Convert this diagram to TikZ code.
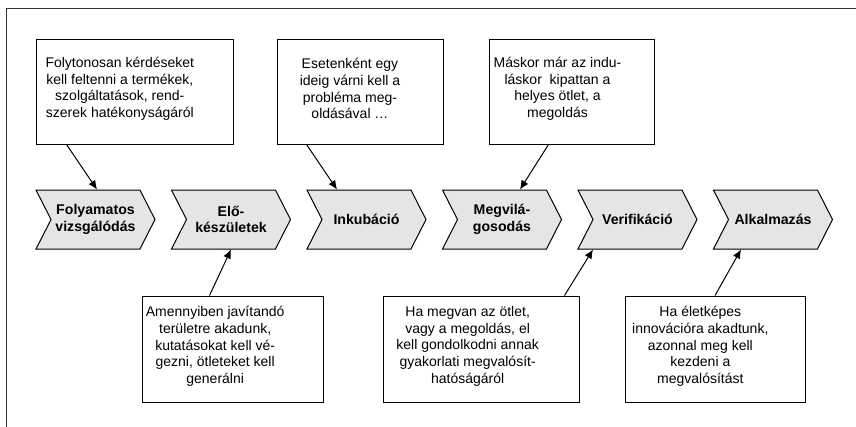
\documentclass[tikz,border=0pt]{standalone}
\usepackage{fontspec}
\setmainfont{Liberation Sans}
\usetikzlibrary{calc,shapes.symbols,arrows.meta}

\tikzset{
  phase/.style={signal, signal from=west, signal to=east, signal pointer angle=126,
    draw, fill=gray!20, minimum width=89.25pt, minimum height=44.25pt, inner sep=0pt,
    align=center, font=\fontsize{10.6}{12.6}\selectfont\bfseries},
  note/.style={draw, fill=white, inner sep=0pt, minimum height=78.75pt},
  notetext/.style={align=center, yshift=2pt, font=\fontsize{10.5}{12.5}\selectfont},
  link/.style={-{Latex[length=6.75pt,width=6pt]}},
}

\begin{document}
\begin{tikzpicture}[x=0.75pt, y=-0.75pt, line width=0.75pt]
\useasboundingbox (0,0) rectangle (856,426);
% Frame
\draw[gray!40!black] (6,430) -- (6,8.5) -- (860,8.5);

% Phases
\node[phase] (c1) at (95.5,219.5) {Folyamatos\\vizsgálódás};
\node[phase] (c2) at (231,219.5) {Elő-\\készületek};
\node[phase] (c3) at (366.5,219.5) {Inkubáció};
\node[phase] (c4) at (502,219.5) {Megvilá-\\gosodás};
\node[phase] (c5) at (637.5,219.5) {Verifikáció};
\node[phase] (c6) at (773,219.5) {Alkalmazás};

% Notes above
\node[note, minimum width=147.75pt, label={[notetext, xshift=-11pt]center:{Folytonosan kérdéseket\\kell feltenni a termékek,\\szolgáltatások, rend-\\szerek hatékonyságáról}}] (t1) at (134.5,91.5) {};
\node[note, minimum width=124.5pt, label={[notetext, xshift=-7.5pt]center:{Esetenként egy\\ideig várni kell a\\probléma meg-\\oldásával \dots}}] (t2) at (360,91.5) {};
\node[note, minimum width=123.75pt, label={[notetext, xshift=-10.5pt]center:{Máskor már az indu-\\láskor\ \ kipattan a\\helyes ötlet, a\\megoldás}}] (t3) at (571.5,91.5) {};

% Notes below
\node[note, minimum width=135.75pt, minimum height=79.5pt, label={[notetext, xshift=-13pt]center:{Amennyiben javítandó\\területre akadunk,\\kutatásokat kell vé-\\gezni, ötleteket kell\\generálni}}] (t4) at (232.5,349) {};
\node[note, minimum width=147pt, minimum height=79.5pt, label={[notetext, xshift=-10pt]center:{Ha megvan az ötlet,\\vagy a megoldás, el\\kell gondolkodni annak\\gyakorlati megvalósít-\\hatóságáról}}] (t5) at (481,349) {};
\node[note, minimum width=135pt, minimum height=79.5pt, label={[notetext, xshift=-11pt]center:{Ha életképes\\innovációra akadtunk,\\azonnal meg kell\\kezdeni a\\megvalósítást}}] (t6) at (715,349) {};

% Arrows
\draw[link] ($(t1.south west)+(31,0)$) -- ($(c1.north)+(1.5,0)$);
\draw[link] ($(t2.south west)+(30,0)$) -- ($(c3.north)+(-29.5,0)$);
\draw[link] ($(t3.south west)+(60,0)$) -- ($(c4.north)+(18,0)$);
\draw[link] ($(t4.north west)+(68,0)$) -- (c2.south);
\draw[link] ($(t5.north east)+(-15,0)$) -- ($(c5.south)+(-44.5,0)$);
\draw[link] (t6.north) -- ($(c6.south)+(-32,0)$);
\end{tikzpicture}
\end{document}
